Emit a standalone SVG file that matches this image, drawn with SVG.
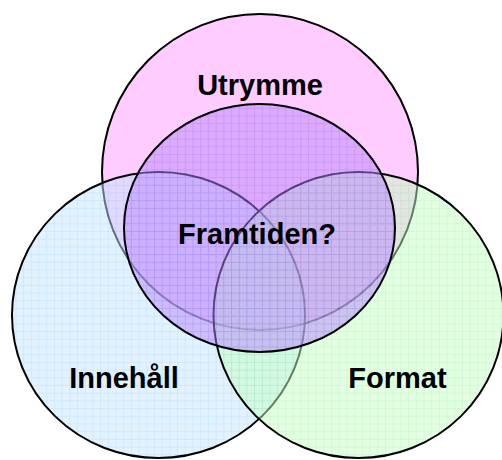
<svg xmlns="http://www.w3.org/2000/svg" width="502" height="460" viewBox="0 0 502 460">
  <defs>
    <pattern id="gBlue" patternUnits="userSpaceOnUse" width="7.7" height="7.7">
      <rect width="7.7" height="7.7" fill="#C6E6FF"/>
      <path d="M0 0.5H7.7M0.5 0V7.7" stroke="#9ED2FF" stroke-width="1" fill="none"/>
    </pattern>
    <pattern id="gGreen" patternUnits="userSpaceOnUse" width="7.7" height="7.7">
      <rect width="7.7" height="7.7" fill="#C6FFC6"/>
      <path d="M0 0.5H7.7M0.5 0V7.7" stroke="#A4F2A4" stroke-width="1" fill="none"/>
    </pattern>
    <pattern id="gPurple" patternUnits="userSpaceOnUse" width="7.7" height="7.7">
      <rect width="7.7" height="7.7" fill="#B988FF"/>
      <path d="M0 0.5H7.7M0.5 0V7.7" stroke="#9A66F6" stroke-width="1" fill="none"/>
    </pattern>
  </defs>
  <style>
    .ring { stroke: #000; stroke-width: 2; }
    .soft { fill-opacity: 0.5; }
    .lbl { font-family: "Liberation Sans", Arial, sans-serif; font-weight: bold; font-size: 29px; fill: #000; text-anchor: middle; }
  </style>
  <rect width="502" height="460" fill="#FFFFFF"/>
  <g id="utrymme">
    <circle class="ring" cx="260" cy="172" r="158" fill="#FFCCFF"/>
  </g>
  <g id="innehall">
    <ellipse class="ring soft" cx="158.5" cy="315" rx="146.5" ry="143" fill="url(#gBlue)"/>
  </g>
  <g id="format">
    <ellipse class="ring soft" cx="358.5" cy="315" rx="145" ry="143" fill="url(#gGreen)"/>
  </g>
  <g id="framtiden">
    <ellipse class="ring soft" cx="259.5" cy="228" rx="135.5" ry="124" fill="url(#gPurple)"/>
  </g>
  <g id="labels">
    <text class="lbl" x="260" y="95">Utrymme</text>
    <text class="lbl" x="257" y="244">Framtiden?</text>
    <text class="lbl" x="124" y="388">Innehåll</text>
    <text class="lbl" x="397.5" y="388">Format</text>
  </g>
  <g id="connectors"/>
</svg>
